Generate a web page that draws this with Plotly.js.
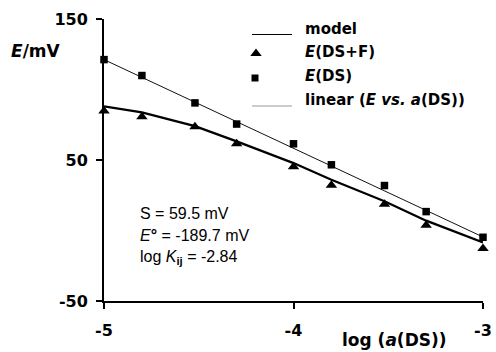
<!DOCTYPE html>
<html>
<head>
<meta charset="utf-8">
<script src="https://cdn.plot.ly/plotly-3.0.1.min.js"></script>
<style>html,body{margin:0;padding:0;background:#fff;}#chart{width:496px;height:352px;}</style>
</head>
<body>
<div id="chart"></div>
<script>
// ---- data ----
var logA      = [-5, -4.8, -4.52, -4.3, -4, -3.8, -3.52, -3.3, -3];
var eDS       = [121.2, 109.9, 90.5, 75.5, 61.5, 46.6, 31.9, 13.4, -4.8];
var eDSF      = [84.8, 80.6, 73.5, 61.6, 45.3, 32.1, 18.6, 3.7, -12.7];
var eModel    = [88.0, 83.8, 74.0, 63.2, 47.8, 36.0, 20.8, 7.0, -8.5];
var linX      = [-5, -3];
var linY      = [121.2, -4.6];
var xTickVals = [-5, -4, -3];
var xTickText = ['-5', '-4', '-3'];
var yTickVals = [150, 50, -50];
var yTickText = ['150', '50', '-50'];
var legendNames = ['model', '<i>E</i>(DS+F)', '<i>E</i>(DS)', 'linear (<i>E vs. a</i>(DS))'];
var infoLines = ['S = 59.5 mV', '<i>E</i><b>°</b> = -189.7 mV', 'log <i>K</i><sub><b>ij</b></sub> = -2.84'];

// ---- layout helpers (pixel -> paper / data) ----
var W = 496, H = 352, L = 104, R = 13, T = 19, B = 51;
var PW = W - L - R, PH = H - T - B;
var XR = [-5, -3], YR = [-50, 150];
function px(x) { return (x - L) / PW; }
function py(y) { return (H - B - y) / PH; }
function dx(x) { return XR[0] + px(x) * (XR[1] - XR[0]); }
function dy(y) { return YR[0] + py(y) * (YR[1] - YR[0]); }

var boldFont = 'DejaVu Sans';
var traces = [
  {x: linX, y: linY, mode: 'lines', line: {color: '#111', width: 1}, showlegend: false, hoverinfo: 'skip'},
  {x: logA, y: eModel, mode: 'lines', line: {color: '#000', width: 2.2}, showlegend: false},
  {x: logA, y: eDS, mode: 'markers', marker: {symbol: 'square', size: 7.5, color: '#000'}, cliponaxis: false, showlegend: false},
  {x: logA, y: eDSF, mode: 'markers', marker: {symbol: 'triangle-up', size: 10, color: '#000'}, cliponaxis: false, showlegend: false},
  // legend keys
  {x: [dx(256)], y: [dy(53.5)], mode: 'markers', marker: {symbol: 'triangle-up', size: 10, color: '#000'},
   cliponaxis: false, showlegend: false, hoverinfo: 'skip'},
  {x: [dx(255)], y: [dy(78)], mode: 'markers', marker: {symbol: 'square', size: 7, color: '#000'},
   cliponaxis: false, showlegend: false, hoverinfo: 'skip'}
];

var legendRowsY = [29, 52, 76, 99.5];
var annotations = [];
legendNames.forEach(function (t, i) {
  annotations.push({xref: 'paper', yref: 'paper', x: px(303), y: py(legendRowsY[i]), xanchor: 'left', yanchor: 'middle',
    text: '<b>' + t + '</b>', showarrow: false, font: {family: boldFont, size: 15, color: '#000'}});
});
var infoY = [213, 236, 257.5];
infoLines.forEach(function (t, i) {
  annotations.push({xref: 'paper', yref: 'paper', x: px(138), y: py(infoY[i]), xanchor: 'left', yanchor: 'middle',
    text: t, showarrow: false, font: {family: 'Liberation Sans, Arial', size: 16, color: '#000'}});
});
annotations.push({xref: 'paper', yref: 'paper', x: px(9), y: py(51), xanchor: 'left', yanchor: 'middle',
  text: '<b><i>E</i>/mV</b>', showarrow: false, font: {family: boldFont, size: 17, color: '#000'}});
annotations.push({xref: 'paper', yref: 'paper', x: px(394), y: py(340), xanchor: 'center', yanchor: 'middle',
  text: '<b>log (<i>a</i>(DS))</b>', showarrow: false, font: {family: boldFont, size: 17, color: '#000'}});

var shapes = [
  {type: 'line', xref: 'paper', yref: 'paper', x0: px(252), x1: px(292), y0: py(34.5), y1: py(34.5), line: {color: '#000', width: 1}},
  {type: 'line', xref: 'paper', yref: 'paper', x0: px(252), x1: px(292), y0: py(106), y1: py(106), line: {color: '#999', width: 1}}
];

var layout = {
  width: W, height: H,
  margin: {l: L, r: R, t: T, b: B, pad: 0},
  paper_bgcolor: '#fff', plot_bgcolor: '#fff',
  showlegend: false,
  xaxis: {range: XR, tickvals: xTickVals, ticktext: xTickText, showgrid: false, zeroline: false,
    showline: true, linecolor: '#000', linewidth: 2, ticks: 'outside', ticklen: 6, tickwidth: 2, tickcolor: '#000',
    ticklabelstandoff: 8, tickfont: {family: boldFont, size: 16, color: '#000', weight: 'bold'}, fixedrange: true},
  yaxis: {range: YR, tickvals: yTickVals, ticktext: yTickText, showgrid: false, zeroline: false,
    showline: true, linecolor: '#000', linewidth: 2, ticks: 'outside', ticklen: 6, tickwidth: 2, tickcolor: '#000',
    ticklabelstandoff: 5, tickfont: {family: boldFont, size: 16, color: '#000', weight: 'bold'}, fixedrange: true},
  annotations: annotations,
  shapes: shapes
};

Plotly.newPlot('chart', traces, layout, {displayModeBar: false, staticPlot: true});
</script>
</body>
</html>
